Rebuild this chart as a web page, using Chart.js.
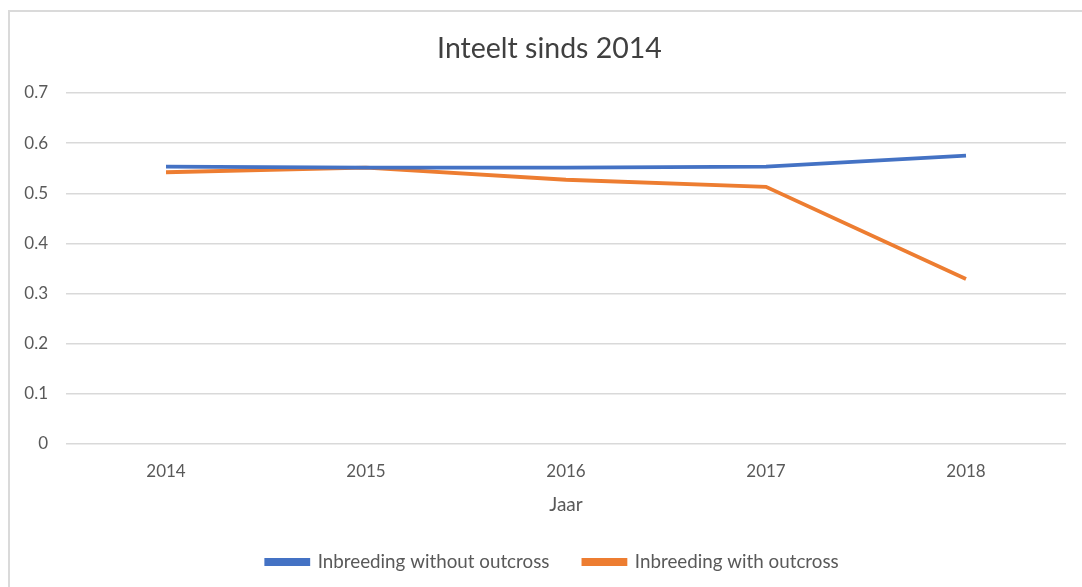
<!DOCTYPE html>
<html>
<head>
<meta charset="utf-8">
<script src="https://cdn.jsdelivr.net/npm/chart.js@4"></script>
<style>
  html, body { margin: 0; padding: 0; background: #ffffff; }
  #wrap { position: relative; width: 1082px; height: 587px; overflow: hidden; background: #ffffff; }
  #frame { position: absolute; left: 8px; top: 10px; width: 1090px; height: 600px;
           border-top: 2px solid #dadada; border-left: 2px solid #dadada; }
  canvas { position: absolute; left: 0; top: 0; }
</style>
</head>
<body>
<div id="wrap">
  <div id="frame"></div>
  <canvas id="c" width="1082" height="587"></canvas>
</div>
<script>
const titleText = "Inteelt sinds 2014";
const xTitle = "Jaar";
const years = ["2014", "2015", "2016", "2017", "2018"];
const withoutOutcross = [0.553, 0.551, 0.551, 0.553, 0.575];
const withOutcross = [0.542, 0.551, 0.527, 0.513, 0.329];
const seriesNames = ["Inbreeding without outcross", "Inbreeding with outcross"];
const yTicks = [0, 0.1, 0.2, 0.3, 0.4, 0.5, 0.6, 0.7];

const textColor = "#595959";
const fontFamily = "Lato, 'Open Sans', sans-serif";
const legendFont = 18.8;
const legendPad = 34;

// shift title/legend boxes after layout so they sit where the reference has them
const placeBoxes = {
  id: "placeBoxes",
  afterLayout(chart) {
    const lg = chart.legend;
    if (lg) {
      const h = lg.height;
      lg.left = 39;
      lg.top = 562 - legendFont / 2 - legendPad;
      lg.bottom = lg.top + h;
    }
    const tb = chart.titleBlock;
    if (tb) { tb.left = 33; }
  }
};

new Chart(document.getElementById("c"), {
  type: "line",
  data: {
    labels: years,
    datasets: [
      { label: seriesNames[0], data: withoutOutcross, borderColor: "#4472C4", backgroundColor: "#4472C4",
        borderWidth: 3.8, pointRadius: 0, tension: 0 },
      { label: seriesNames[1], data: withOutcross, borderColor: "#ED7D31", backgroundColor: "#ED7D31",
        borderWidth: 3.8, pointRadius: 0, tension: 0 }
    ]
  },
  plugins: [placeBoxes],
  options: {
    responsive: false,
    animation: false,
    devicePixelRatio: 1,
    layout: { padding: { left: 0, right: 16, top: 0, bottom: 18.2 } },
    plugins: {
      title: {
        display: true, text: titleText, color: "#404040",
        font: { family: fontFamily, size: 28.5, weight: "normal" },
        padding: { top: 31.9, bottom: 26.9 }
      },
      legend: {
        display: true, position: "bottom",
        labels: {
          color: textColor,
          font: { family: fontFamily, size: legendFont },
          boxWidth: 42, boxHeight: 4, padding: legendPad
        }
      },
      tooltip: { enabled: false }
    },
    scales: {
      x: {
        offset: true,
        grid: { display: false, drawTicks: false },
        border: { display: false },
        ticks: { color: textColor, font: { family: fontFamily, size: 17 }, padding: 17 },
        title: { display: true, text: xTitle, color: textColor,
                 font: { family: fontFamily, size: 19 }, padding: { top: 0, bottom: -10.4 } },
        afterFit: (s) => { s.height = 62; }
      },
      y: {
        min: 0, max: 0.7,
        afterBuildTicks: (s) => { s.ticks = yTicks.map(v => ({ value: v })); },
        grid: { color: "#d9d9d9", lineWidth: 1.5, drawTicks: false },
        border: { display: false },
        ticks: { color: textColor, font: { family: fontFamily, size: 17 }, padding: 18,
                 callback: (v) => String(Math.round(v * 10) / 10) },
        afterFit: (s) => { s.width = 66; }
      }
    }
  }
});
</script>
</body>
</html>
